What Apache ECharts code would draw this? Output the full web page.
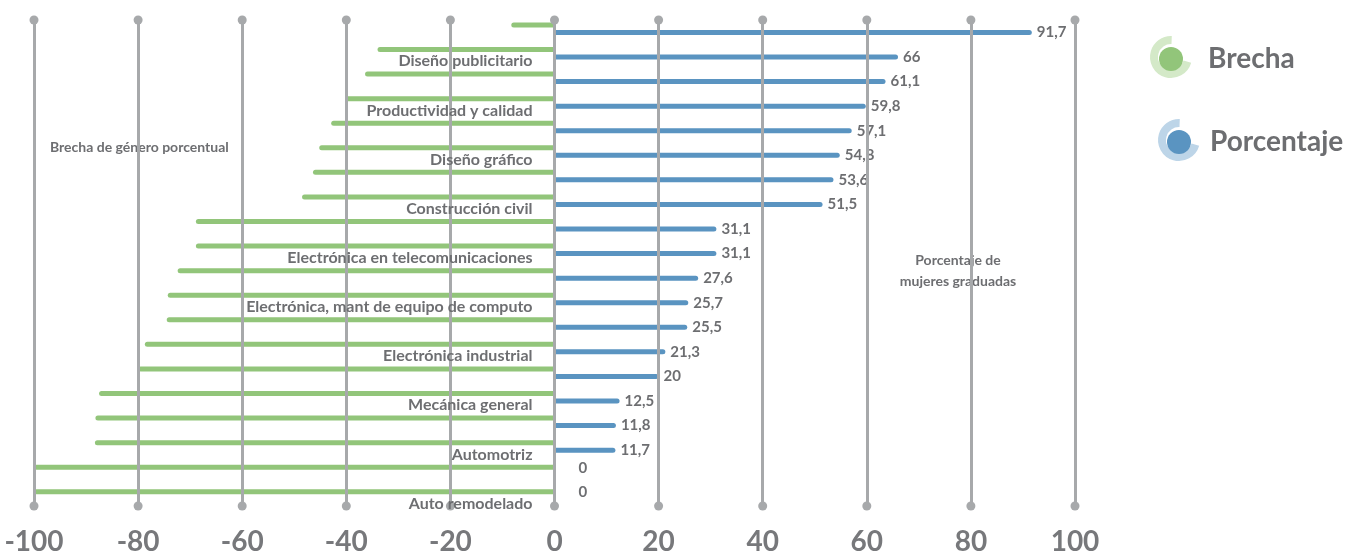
<!DOCTYPE html>
<html>
<head>
<meta charset="utf-8">
<script src="https://cdn.jsdelivr.net/npm/echarts@6/dist/echarts.min.js"></script>
<style>
  html, body { margin: 0; padding: 0; background: #ffffff; }
  #chart { width: 1351px; height: 554px; }
</style>
</head>
<body>
<div id="chart"></div>
<script>
// ---- data ----
const categories = ['', 'Diseño publicitario', '', 'Productividad y calidad', '', 'Diseño gráfico', '', 'Construcción civil', '', 'Electrónica en telecomunicaciones', '', 'Electrónica, mant de equipo de computo', '', 'Electrónica industrial', '', 'Mecánica general', '', 'Automotriz', '', 'Auto remodelado'];
const brecha = [-8.3, -34, -36.4, -40.2, -42.9, -45.2, -46.4, -48.5, -68.9, -68.9, -72.4, -74.3, -74.5, -78.7, -80, -87.5, -88.2, -88.3, -100, -100];
// bar lengths as drawn (third bar is drawn longer than its printed label)
const porcentaje = [91.7, 66, 63.6, 59.8, 57.1, 54.8, 53.6, 51.5, 31.1, 31.1, 27.6, 25.7, 25.5, 21.3, 20, 12.5, 11.8, 11.7, 0, 0];
// value labels as printed next to the bars
const porcentajeLabels = ['91,7', '66', '61,1', '59,8', '57,1', '54,8', '53,6', '51,5', '31,1', '31,1', '27,6', '25,7', '25,5', '21,3', '20', '12,5', '11,8', '11,7', '0', '0'];
const xTicks = [-100, -80, -60, -40, -20, 0, 20, 40, 60, 80, 100];
const seriesNames = ['Brecha', 'Porcentaje'];
const noteLeft = 'Brecha de género porcentual';
const noteRight = 'Porcentaje de\nmujeres graduadas';

// ---- styles / layout ----
const FONT = 'Lato, "Open Sans", sans-serif';
const TEXT = '#6d6e71';
const GREEN = '#92c57a';
const BLUE = '#5a94c1';
const GRID = '#a7a9ab';
const W = 1351, GRID_L = 34, GRID_R = 276;
const X_MIN = -100, X_MAX = 100;
const zeroOffset = (0 - X_MIN) / (X_MAX - X_MIN) * (W - GRID_L - GRID_R);

const chart = echarts.init(document.getElementById('chart'));
const option = {
  animation: false,
  backgroundColor: '#ffffff',
  grid: [
    { left: GRID_L, right: GRID_R, top: 16.4, bottom: 46.2, containLabel: false, outerBoundsMode: 'none' },
    { left: GRID_L, right: GRID_R, top: 20, bottom: 48, containLabel: false, outerBoundsMode: 'none' }
  ],
  xAxis: [
    { gridIndex: 0, type: 'value', min: X_MIN, max: X_MAX, interval: 20, show: false },
    {
      gridIndex: 1, type: 'value', min: X_MIN, max: X_MAX, interval: 20,
      axisLine: { show: false }, axisTick: { show: false }, splitLine: { show: false },
      axisLabel: { margin: 22, fontSize: 28, fontWeight: 'bold', color: '#77787b', fontFamily: FONT,
        formatter: v => String(v) }
    }
  ],
  yAxis: [
    {
      gridIndex: 0, type: 'category', inverse: true, data: categories,
      position: 'left', offset: -zeroOffset, z: 5,
      axisLine: { show: false, onZero: false },
      axisTick: { show: false }, splitLine: { show: false },
      axisLabel: { interval: 0, margin: 22, verticalAlign: 'top', fontSize: 16, fontWeight: 'bold',
        color: TEXT, fontFamily: FONT }
    },
    { gridIndex: 1, type: 'value', min: 0, max: 1, show: false }
  ],
  legend: [
    { data: [seriesNames[0]], left: 1159, top: 45, padding: 0, icon: 'circle', itemWidth: 24, itemHeight: 24,
      selectedMode: false,
      textStyle: { fontSize: 28, fontWeight: 'bold', color: TEXT, fontFamily: FONT, padding: [0, 0, 4, 20] } },
    { data: [seriesNames[1]], left: 1167, top: 128, padding: 0, icon: 'circle', itemWidth: 24, itemHeight: 24,
      selectedMode: false,
      textStyle: { fontSize: 28, fontWeight: 'bold', color: TEXT, fontFamily: FONT, padding: [0, 0, 5, 14] } }
  ],
  graphic: [
    { type: 'arc', silent: true, shape: { cx: 1171, cy: 57, r: 17, startAngle: 0.28, endAngle: 4.75, clockwise: true },
      style: { stroke: '#d4e9c8', lineWidth: 8, fill: null } },
    { type: 'arc', silent: true, shape: { cx: 1179, cy: 140, r: 17, startAngle: 0.28, endAngle: 4.75, clockwise: true },
      style: { stroke: '#bdd5e8', lineWidth: 8, fill: null } },
    { type: 'text', silent: true, x: 50, y: 147,
      style: { text: noteLeft, font: 'bold 14px ' + FONT, fill: TEXT, align: 'left', verticalAlign: 'middle' } },
    { type: 'text', silent: true, x: 958, y: 270.5,
      style: { text: noteRight, font: 'bold 14px ' + FONT, fill: TEXT, align: 'center', verticalAlign: 'middle', lineHeight: 21 } }
  ],
  series: [
    {
      name: seriesNames[0], type: 'bar', xAxisIndex: 0, yAxisIndex: 0, data: brecha,
      barWidth: 5, barGap: '50%', z: 3,
      itemStyle: { color: GREEN, borderRadius: [2.5, 0, 0, 2.5] }
    },
    {
      name: seriesNames[1], type: 'bar', xAxisIndex: 0, yAxisIndex: 0, data: porcentaje,
      barWidth: 5, barGap: '50%', z: 3,
      itemStyle: { color: BLUE, borderRadius: [0, 2.5, 2.5, 0] },
      label: { show: true, position: 'right', distance: 5, fontSize: 15, fontWeight: 'bold', color: TEXT,
        fontFamily: FONT, formatter: p => porcentajeLabels[p.dataIndex] },
      labelLayout: p => (porcentaje[p.dataIndex] === 0 ? { dx: 19, dy: -7 } : {})
    },
    {
      type: 'line', xAxisIndex: 1, yAxisIndex: 1, data: [], silent: true, z: 1,
      markLine: {
        silent: true, animation: false, symbol: ['circle', 'circle'], symbolSize: 9,
        label: { show: false },
        lineStyle: { color: GRID, width: 3, type: 'solid' },
        itemStyle: { color: GRID },
        emphasis: { disabled: true },
        data: xTicks.map(t => ({ xAxis: t }))
      }
    }
  ]
};
chart.setOption(option);
</script>
</body>
</html>
